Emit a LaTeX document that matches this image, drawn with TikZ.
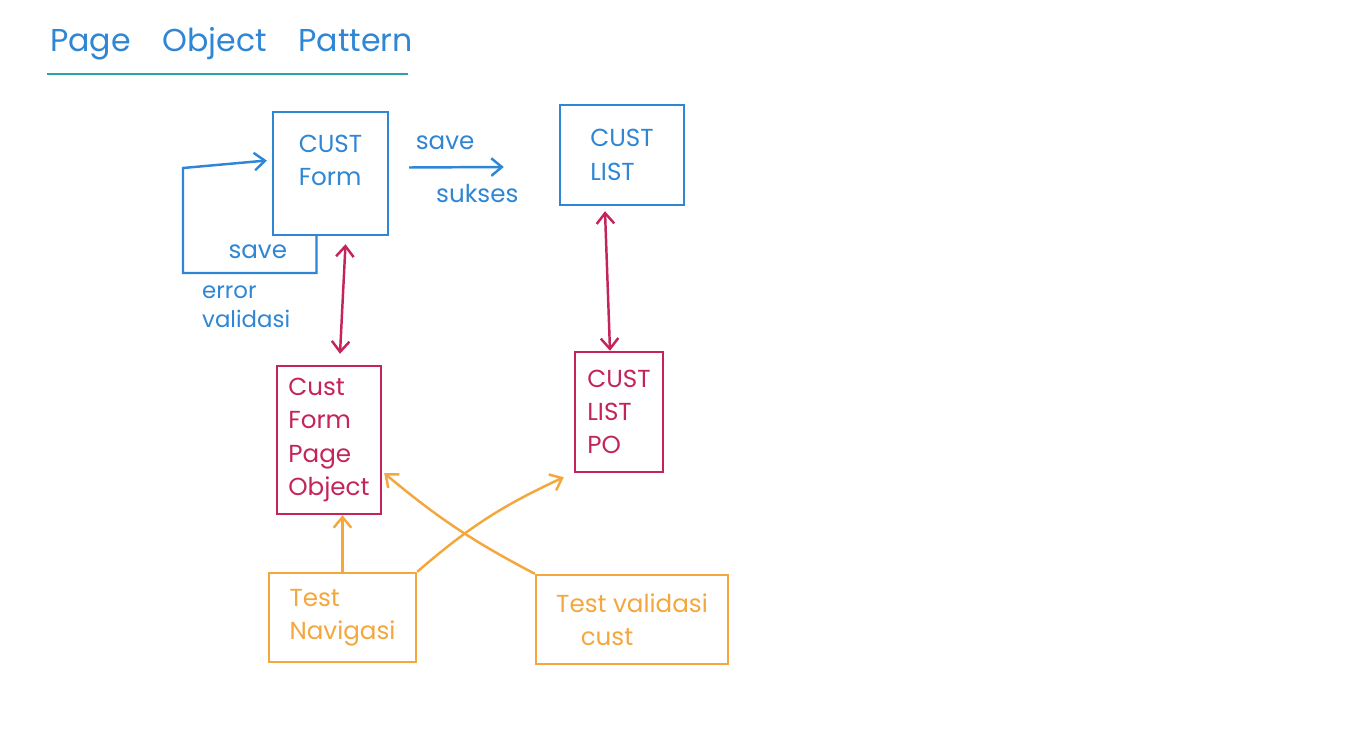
\documentclass[tikz,border=0pt]{standalone}
\usepackage{fontspec}
\setmainfont{Poppins}
\usepackage{tikz}
\usetikzlibrary{arrows.meta,positioning,calc}
\definecolor{inkBlue}{HTML}{2E86D4}
\definecolor{inkRed}{HTML}{C42459}
\definecolor{inkOrange}{HTML}{F4A73C}
\definecolor{inkTeal}{HTML}{2BA3A9}

\begin{document}
\begin{tikzpicture}[x=0.02cm, y=-0.02cm,
    every node/.style={font=\fontsize{14}{19}\selectfont},
    pagebox/.style={draw=inkBlue, text=inkBlue, line width=1.4pt, align=left, inner sep=0pt},
    pobox/.style={draw=inkRed, text=inkRed, line width=1.4pt, align=left, inner sep=0pt},
    testbox/.style={draw=inkOrange, text=inkOrange, line width=1.4pt, align=left, inner sep=0pt},
    blueflow/.style={inkBlue, line width=1.4pt, -{Straight Barb[length=6pt,width=10pt]}},
    redlink/.style={inkRed, line width=1.4pt, {Straight Barb[length=6pt,width=10pt]}-{Straight Barb[length=6pt,width=10pt]}},
    testflow/.style={inkOrange, line width=1.4pt, -{Straight Barb[length=6pt,width=10pt]}}]
    \fill[white] (0,0) rectangle (1366,746);

    % title
    \node[anchor=west, inkBlue, font=\fontsize{18}{22}\selectfont] (title) at (44,44) {Page\quad Object\quad Pattern};
    \draw[inkTeal, line width=1.4pt] (47,74) -- (408,74);

    % pages
    \node[pagebox, minimum height=123*0.02cm, minimum width=115*0.02cm] (form) at (330.5,173.5) {CUST\\Form\\[-4pt]};
    \node[pagebox, minimum height=100*0.02cm, minimum width=124*0.02cm] (list) at (622,155) {CUST\\LIST};

    % page objects
    \node[pobox, minimum height=148*0.02cm, minimum width=104*0.02cm] (cfpo) at (329,440) {Cust\\Form\\Page\\Object};
    \node[pobox, minimum height=120*0.02cm, minimum width=88*0.02cm] (clpo) at (619,412) {CUST\\LIST\\PO};

    % tests
    \node[testbox, minimum height=89*0.02cm, minimum width=147*0.02cm] (nav) at (342.5,617.5) {Test\\Navigasi};
    \node[testbox, minimum height=89*0.02cm, minimum width=192*0.02cm] (val) at (632,619.5) {Test validasi\\\quad cust};

    % page flow
    \coordinate (loop) at (183,273);
    \draw[blueflow] ($(form.south)+(-14,0)$) |- (loop)
        node[pos=0.72, above=4pt] {save}
        -- ++(0,-105) -- ($(form.west)+(-5,-13)$);
    \node[inkBlue, anchor=north west, align=left, font=\fontsize{13}{16}\selectfont] (err) at (196,280) {error\\validasi};
    \draw[blueflow] ($(form.east)+(20,-6)$) -- ($(list.west)+(-55,12)$)
        node[pos=0.38, above=6pt] {save}
        node[pos=0.72, below=6pt] {sukses};

    % page <-> page object
    \draw[redlink] ($(form.south)+(15,8)$) -- ($(cfpo.north)+(11,-11)$);
    \draw[redlink] ($(list.south)+(-17,5)$) -- ($(clpo.north)+(-9,0)$);

    % tests use page objects
    \draw[testflow] (nav.north) -- (nav.north |- cfpo.south);
    \draw[testflow] (nav.north east) to[bend left=8] ($(clpo.south west)+(-10,4)$);
    \draw[testflow] (val.north west) to[bend left=6] ($(cfpo.south east)+(2,-42)$);
\end{tikzpicture}
\end{document}
